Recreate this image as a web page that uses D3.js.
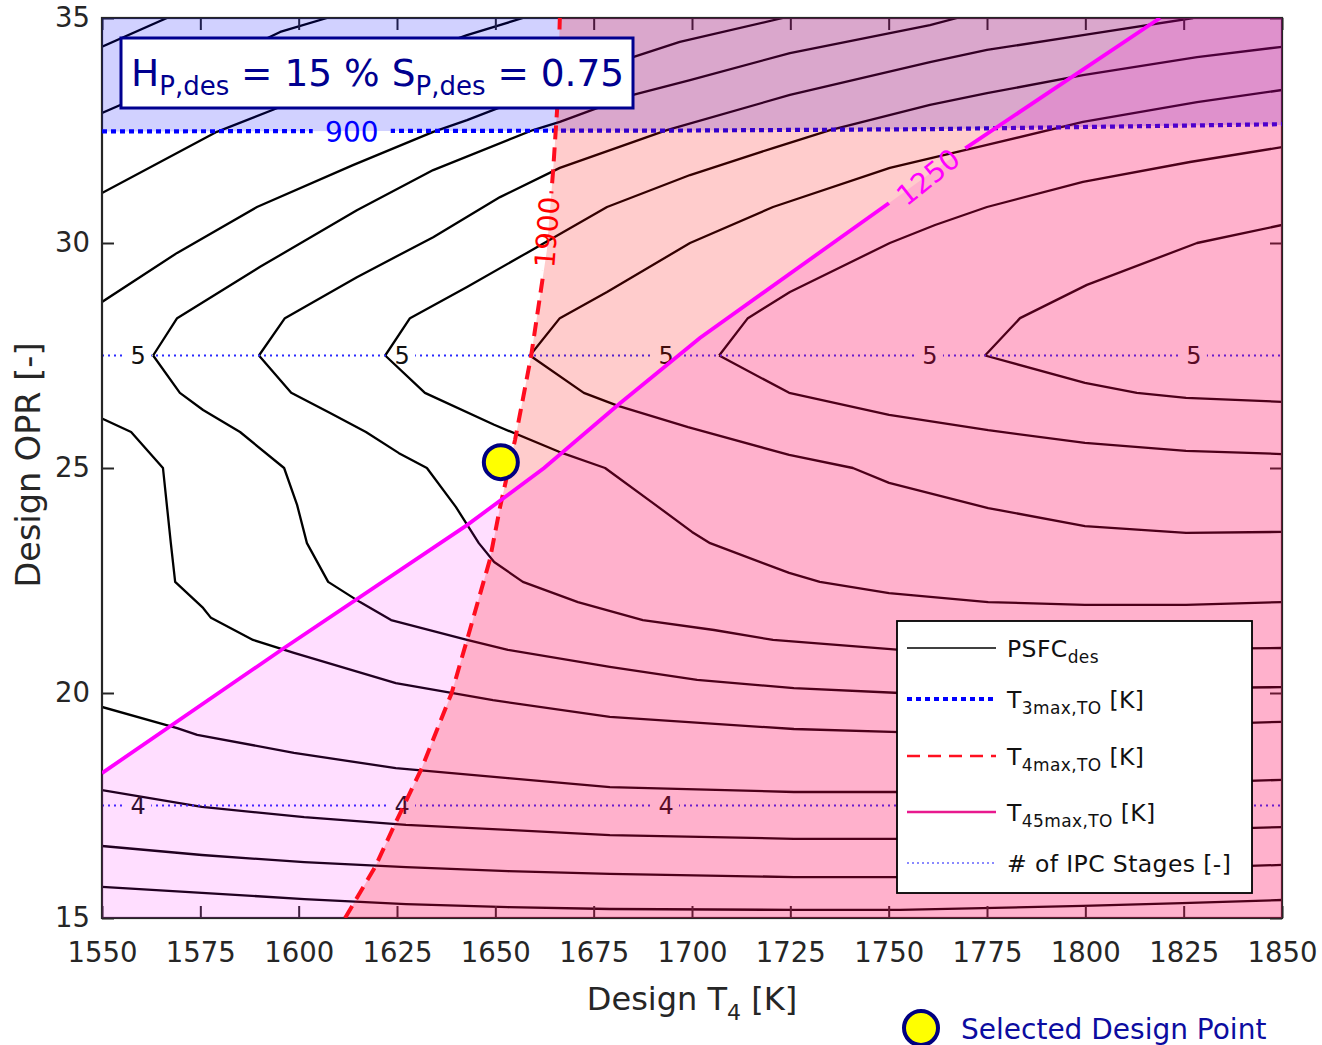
<!DOCTYPE html>
<html>
<head>
<meta charset="utf-8">
<script src="https://cdn.jsdelivr.net/npm/d3@7"></script>
<style>
  body { margin: 0; background: #fff; }
  svg { display: block; font-family: "DejaVu Sans", Verdana, sans-serif; }
</style>
</head>
<body>
<div id="chart"></div>
<script>
// ---- axis ticks ----
const T4_TICKS = [1550, 1575, 1600, 1625, 1650, 1675, 1700, 1725, 1750, 1775, 1800, 1825, 1850];
const OPR_TICKS = [15, 20, 25, 30, 35];

// ---- PSFC_des contour lines, [design T4, design OPR] ----
// above the 5-stage IPC boundary (rising to the right)
const psfcUpper = [
  [[1550,34.36],[1566.5,35]],
  [[1550,32.89],[1575,33.84],[1595.3,34.69],[1607.2,35]],
  [[1550,31.11],[1579.2,32.47],[1593.5,32.96],[1618.1,33.84],[1642.8,34.62],[1657,35]],
  [[1550,28.69],[1569.1,29.78],[1589.4,30.8],[1613.8,31.73],[1634.2,32.47],[1642.8,32.73],[1663.9,33.44],[1685,34.13],[1696.9,34.47],[1723.1,35]],
  [[1563,27.5],[1569.1,28.33],[1590.2,29.47],[1614.8,30.73],[1634.2,31.62],[1659.6,32.51],[1666.4,32.69],[1685,33.29],[1699.5,33.62],[1724.9,34.22],[1760.5,34.84],[1767.4,35]],
  [[1589.9,27.5],[1596.5,28.33],[1614.8,29.24],[1634.2,30.13],[1651.2,31.02],[1666.4,31.67],[1693.6,32.51],[1724.9,33.29],[1760.5,34.02],[1775,34.29],[1799.4,34.62],[1827.4,35]],
  [[1622,27.5],[1628.3,28.33],[1642.8,29.02],[1658,29.78],[1678.4,30.8],[1699.5,31.51],[1720.6,32.11],[1735.1,32.51],[1760.5,33.07],[1775,33.33],[1799.4,33.73],[1828.4,34.13],[1850,34.36]],
  [[1658.8,27.5],[1666.4,28.33],[1678.4,28.91],[1699.5,30],[1720.6,30.8],[1750.3,31.67],[1775,32.18],[1799.4,32.69],[1828.4,33.13],[1850,33.4]],
  [[1706.9,27.5],[1714.2,28.33],[1724.9,28.91],[1750.3,30],[1761.8,30.4],[1775,30.8],[1799.4,31.36],[1826.6,31.8],[1850,32.13]],
  [[1774.5,27.5],[1783.4,28.33],[1800.4,29.07],[1828.4,30],[1850,30.4]]
];
// below the 5-stage IPC boundary (falling to the right)
const psfcLower = [
  [[1563,27.5],[1569.8,26.67],[1575.7,26.29],[1585.1,25.8],[1596.3,25],[1599.6,24.18],[1602.1,23.33],[1607.5,22.47],[1615.6,22.02],[1623.5,21.62],[1642.8,21.18],[1653.2,20.96],[1679.1,20.58],[1701.3,20.29],[1725.9,20.11],[1752.9,20],[1799.4,20.07],[1824.6,20.11],[1850,20.13]],
  [[1589.9,27.5],[1598.1,26.67],[1608,26.22],[1617.1,25.8],[1625.5,25.33],[1632.6,25],[1640,24.13],[1645.8,23.33],[1649.7,22.91],[1657,22.47],[1671,22.02],[1687.5,21.62],[1705.6,21.4],[1720.6,21.18],[1752.9,20.96],[1799.4,20.96],[1824.6,20.98],[1850,21]],
  [[1622,27.5],[1632.1,26.67],[1649.7,25.96],[1666.2,25.36],[1677.9,25],[1690.1,24.22],[1700,23.58],[1704.6,23.33],[1724.7,22.67],[1732.5,22.47],[1750.1,22.22],[1775.3,22.02],[1799.9,21.96],[1825.6,21.96],[1850,22.02]],
  [[1658.8,27.5],[1672.5,26.67],[1681.2,26.38],[1699,25.91],[1724.7,25.29],[1740.9,25],[1750.1,24.67],[1775.3,24.11],[1799.9,23.71],[1825.6,23.56],[1850,23.58]],
  [[1706.9,27.5],[1724.7,26.67],[1750.1,26.18],[1775.3,25.84],[1799.9,25.56],[1825.6,25.38],[1850,25.31]],
  [[1774.5,27.5],[1799.9,26.89],[1813.1,26.67],[1825.6,26.56],[1850,26.47]],
  [[1550,26.1],[1557.4,25.8],[1565.5,25],[1567.5,23.33],[1568.6,22.47],[1575.7,21.89],[1577.7,21.67],[1588.4,21.18],[1598.8,20.89],[1624.7,20.22],[1649.4,19.84],[1679.1,19.47],[1725.9,19.2],[1752.9,19.13],[1799.4,19.24],[1824.6,19.29],[1850,19.36]],
  [[1550,19.69],[1569.1,19.22],[1574.2,19.07],[1598.8,18.67],[1624.7,18.33],[1653.2,18.11],[1679.1,17.91],[1725.9,17.8],[1752.9,17.8],[1799.4,17.93],[1824.6,18],[1850,18.07]],
  [[1550,17.84],[1575.4,17.47],[1601.4,17.24],[1627.3,17.07],[1653.2,16.96],[1679.1,16.84],[1725.9,16.76],[1752.9,16.76],[1799.4,16.89],[1824.6,16.96],[1850,17.02]],
  [[1550,16.6],[1575.4,16.4],[1601.4,16.24],[1627.3,16.13],[1653.2,16.04],[1679.1,15.98],[1725.9,15.91],[1752.9,15.91],[1799.4,16.02],[1824.6,16.11],[1850,16.18]],
  [[1550,15.69],[1575.4,15.56],[1601.4,15.42],[1627.3,15.31],[1653.2,15.24],[1679.1,15.2],[1725.9,15.18],[1752.9,15.18],[1799.4,15.27],[1824.6,15.33],[1850,15.4]]
];

// ---- take-off temperature limits ----
const t3maxLine = [[1550,32.48],[1700,32.5],[1760,32.53],[1850,32.64]];          // 900 K
const t4maxLine = [[1611.8,15],[1619.4,16.13],[1624.7,17.13],[1631.1,18.29],[1638.9,20],[1642.8,21.18],
                   [1648.6,22.96],[1651.2,24.13],[1655,25.62],[1659.1,27.49],[1663.1,29.84],[1664.7,31.62],
                   [1665.7,32.96],[1666.4,35]];                                      // 1900 K
const t45maxLine = [[1550,18.22],[1596.3,21],[1642.8,23.73],[1662.4,25],[1681.7,26.44],[1702,27.89],
                    [1750.1,30.89],[1768.9,32.07],[1819,35]];                        // 1250 K
const limitLabels = [
  { text: '900',  at: [1613.5, 32.48], line: 't3',  color: '#0000ff', gap: 78, tilt: 0 },
  { text: '1900', at: [1663.1, 30.24], line: 't4',  color: '#ff0000', gap: 78, tilt: 0 },
  { text: '1250', at: [1760.0, 31.47], line: 't45', color: '#ff00ff', gap: 94, tilt: -3 }
];

// ---- number of IPC stages ----
const ipcLevels = [27.5, 17.5];
const ipcNames = ['5', '4'];
const ipcLabelT4 = [1559.2, 1626.3, 1693.4, 1760.5, 1827.6];

// ---- selected design point ----
const designPoint = [1651.4, 25.13];

const W = 1322, H = 1045;
const M = { left: 102, top: 18, right: 1282, bottom: 918 };
const INK = '#262626', NAVY = '#00008f';

const svg = d3.select('#chart').append('svg').attr('width', W).attr('height', H);
const defs = svg.append('defs');

const x = d3.scaleLinear().domain([1550, 1850]).range([M.left, M.right]);
const y = d3.scaleLinear().domain([15, 35]).range([M.bottom, M.top]);
const line = d3.line().x(d => x(d[0])).y(d => y(d[1]));

defs.append('clipPath').attr('id', 'plotClip').append('rect')
  .attr('x', M.left).attr('y', M.top).attr('width', M.right - M.left).attr('height', M.bottom - M.top);

function gapMask(id, gaps) {
  const m = defs.append('mask').attr('id', id).attr('maskUnits', 'userSpaceOnUse')
    .attr('x', 0).attr('y', 0).attr('width', W).attr('height', H);
  m.append('rect').attr('width', W).attr('height', H).attr('fill', '#fff');
  gaps.forEach(g => m.append('rect').attr('x', -g.w / 2).attr('y', -g.h / 2).attr('width', g.w).attr('height', g.h)
    .attr('fill', '#000').attr('transform', `translate(${g.cx},${g.cy}) rotate(${g.a})`));
}

// angle of a polyline (in pixels) at the segment nearest a point
function angleAt(pts, p) {
  let best = null, bd = Infinity;
  for (let i = 0; i < pts.length - 1; i++) {
    const mx = (x(pts[i][0]) + x(pts[i + 1][0])) / 2, my = (y(pts[i][1]) + y(pts[i + 1][1])) / 2;
    const d = Math.hypot(mx - x(p[0]), my - y(p[1]));
    if (d < bd) { bd = d; best = i; }
  }
  const dx = x(pts[best + 1][0]) - x(pts[best][0]), dy = y(pts[best + 1][1]) - y(pts[best][1]);
  return Math.atan2(dy, dx) * 180 / Math.PI;
}

const plot = svg.append('g').attr('clip-path', 'url(#plotClip)');

// contours
plot.append('g').selectAll('path').data(psfcUpper.concat(psfcLower)).join('path')
  .attr('d', line).attr('fill', 'none').attr('stroke', '#000').attr('stroke-width', 2.3)
  .attr('stroke-linejoin', 'round');

// IPC stage boundaries with inline labels
const ipcGaps = [];
ipcLevels.forEach(lv => ipcLabelT4.forEach(t => ipcGaps.push({ cx: x(t), cy: y(lv), w: 26, h: 10, a: 0 })));
gapMask('ipcMask', ipcGaps);
ipcLevels.forEach((lv, i) => {
  plot.append('path').attr('d', line([[1550, lv], [1850, lv]])).attr('mask', 'url(#ipcMask)')
    .attr('fill', 'none').attr('stroke', '#2a2aff').attr('stroke-width', 1.8).attr('stroke-dasharray', '2,4');
  plot.append('g').selectAll('text').data(ipcLabelT4).join('text')
    .attr('x', d => x(d)).attr('y', y(lv)).attr('dy', '0.36em').attr('text-anchor', 'middle')
    .style('font-size', '24px').style('fill', '#111').text(ipcNames[i]);
});

// axes (drawn under the shaded limits, like the original)
const axes = svg.append('g');
axes.append('g').attr('transform', `translate(0,${M.bottom})`)
  .call(d3.axisBottom(x).tickValues(T4_TICKS).tickSizeInner(-12).tickSizeOuter(0).tickPadding(24).tickFormat(d3.format('d')));
axes.append('g').attr('transform', `translate(0,${M.top})`)
  .call(d3.axisTop(x).tickValues(T4_TICKS).tickSizeInner(-12).tickSizeOuter(0).tickFormat(''));
axes.append('g').attr('transform', `translate(${M.left},0)`)
  .call(d3.axisLeft(y).tickValues(OPR_TICKS).tickSizeInner(-12).tickSizeOuter(0).tickPadding(12).tickFormat(d3.format('d')));
axes.append('g').attr('transform', `translate(${M.right},0)`)
  .call(d3.axisRight(y).tickValues(OPR_TICKS).tickSizeInner(-12).tickSizeOuter(0).tickFormat(''));
axes.selectAll('.domain').remove();
axes.selectAll('.tick line').attr('stroke', INK).attr('stroke-width', 2);
axes.selectAll('.tick text').style('font-size', '27.5px').style('fill', INK)
  .style('font-family', '"DejaVu Sans", Verdana, sans-serif');
axes.append('rect').attr('x', M.left).attr('y', M.top).attr('width', M.right - M.left).attr('height', M.bottom - M.top)
  .attr('fill', 'none').attr('stroke', INK).attr('stroke-width', 2.2);

// label gaps on the limit lines
const limitPts = { t3: t3maxLine, t4: t4maxLine, t45: t45maxLine };
limitLabels.forEach(l => { l.angle = angleAt(limitPts[l.line], l.at) + l.tilt; });
limitLabels.forEach(l => gapMask('mask_' + l.line, [{ cx: x(l.at[0]), cy: y(l.at[1]), w: l.gap, h: 26, a: l.angle }]));

// shaded regions + limit lines
const shade = svg.append('g').attr('clip-path', 'url(#plotClip)');
shade.append('path').attr('d', line(t3maxLine.concat([[1850, 35], [1550, 35]])) + 'Z')
  .attr('fill', '#0000ff').attr('fill-opacity', 0.18);
shade.append('path').attr('d', line(t3maxLine)).attr('mask', 'url(#mask_t3)')
  .attr('fill', 'none').attr('stroke', '#0000ff').attr('stroke-width', 4.2).attr('stroke-dasharray', '5,4');
shade.append('path').attr('d', line(t45maxLine.concat([[1850, 35], [1850, 15], [1550, 15]])) + 'Z')
  .attr('fill', '#ff00ff').attr('fill-opacity', 0.13);
shade.append('path').attr('d', line(t4maxLine.concat([[1850, 35], [1850, 15]])) + 'Z')
  .attr('fill', '#ff0000').attr('fill-opacity', 0.2);
shade.append('path').attr('d', line(t4maxLine)).attr('mask', 'url(#mask_t4)')
  .attr('fill', 'none').attr('stroke', '#ff0d1f').attr('stroke-width', 4).attr('stroke-dasharray', '14,8');
shade.append('path').attr('d', line(t45maxLine)).attr('mask', 'url(#mask_t45)')
  .attr('fill', 'none').attr('stroke', '#ff00ff').attr('stroke-width', 3.8);

svg.append('g').selectAll('text').data(limitLabels).join('text')
  .attr('transform', d => `translate(${x(d.at[0])},${y(d.at[1])}) rotate(${d.angle})`)
  .attr('text-anchor', 'middle').attr('dy', '0.36em')
  .style('font-size', '28px').style('fill', d => d.color).text(d => d.text);

// selected design point
svg.append('circle').attr('cx', x(designPoint[0])).attr('cy', y(designPoint[1])).attr('r', 17)
  .attr('fill', '#ffff00').attr('stroke', '#000080').attr('stroke-width', 4);

// annotation box
const box = svg.append('g');
box.append('rect').attr('x', 121).attr('y', 38).attr('width', 512).attr('height', 70)
  .attr('fill', '#fff').attr('stroke', NAVY).attr('stroke-width', 3);
const bt = box.append('text').attr('x', 131).attr('y', 86).style('font-size', '37.5px').style('fill', NAVY);
bt.append('tspan').text('H');
bt.append('tspan').attr('dy', 9).style('font-size', '26px').text('P,des');
bt.append('tspan').attr('dy', -9).text(' = 15 % S');
bt.append('tspan').attr('dy', 9).style('font-size', '26px').text('P,des');
bt.append('tspan').attr('dy', -9).text(' = 0.75');

// axis titles
const xt = svg.append('text').attr('x', 692).attr('y', 1010).attr('text-anchor', 'middle')
  .style('font-size', '32px').style('fill', INK);
xt.append('tspan').text('Design T');
xt.append('tspan').attr('dy', 10).style('font-size', '22px').text('4');
xt.append('tspan').attr('dy', -10).text(' [K]');
svg.append('text').attr('transform', 'translate(40,465) rotate(-90)').attr('text-anchor', 'middle')
  .style('font-size', '33.5px').style('fill', INK).text('Design OPR [-]');

// legend
const lg = svg.append('g');
lg.append('rect').attr('x', 897).attr('y', 621).attr('width', 355).attr('height', 272)
  .attr('fill', '#fff').attr('stroke', '#000').attr('stroke-width', 1.8);
const legendItems = [
  { main: 'PSFC', sub: 'des', tail: '', color: '#000', w: 1.5, dash: null, ly: 648 },
  { main: 'T', sub: '3max,TO', tail: ' [K]', color: '#0000ff', w: 4, dash: '5,4', ly: 699 },
  { main: 'T', sub: '4max,TO', tail: ' [K]', color: '#ff1020', w: 2.4, dash: '13,8', ly: 756 },
  { main: 'T', sub: '45max,TO', tail: ' [K]', color: '#e8198e', w: 2.4, dash: null, ly: 812 },
  { main: '# of IPC Stages [-]', sub: '', tail: '', color: '#8a8aff', w: 2, dash: '2,3', ly: 863 }
];
legendItems.forEach(it => {
  lg.append('line').attr('x1', 907).attr('x2', 996).attr('y1', it.ly).attr('y2', it.ly)
    .attr('stroke', it.color).attr('stroke-width', it.w).attr('stroke-dasharray', it.dash);
  const t = lg.append('text').attr('x', 1007).attr('y', it.ly + 9).style('font-size', '23.5px')
    .style('letter-spacing', '0.4px').style('fill', '#111');
  t.append('tspan').text(it.main);
  if (it.sub) t.append('tspan').attr('dy', 6).style('font-size', '17px').text(it.sub);
  if (it.tail) t.append('tspan').attr('dy', -6).text(it.tail);
});

// selected design point key
svg.append('circle').attr('cx', 921).attr('cy', 1028).attr('r', 17)
  .attr('fill', '#ffff00').attr('stroke', '#000080').attr('stroke-width', 4);
svg.append('text').attr('x', 961).attr('y', 1039).style('font-size', '28px').style('fill', '#0c0ca0')
  .text('Selected Design Point');
</script>
</body>
</html>
